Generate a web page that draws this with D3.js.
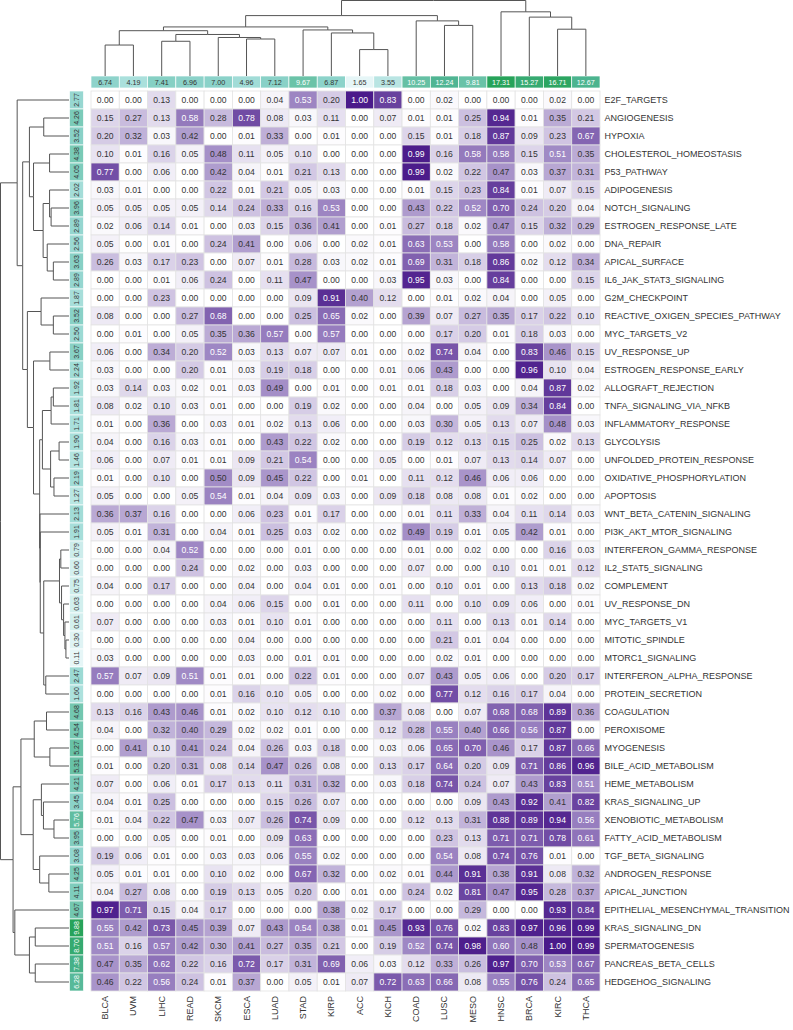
<!DOCTYPE html>
<html><head><meta charset="utf-8">
<script src="https://cdn.jsdelivr.net/npm/d3@7"></script>
<style>body{margin:0;background:#fff}svg{display:block}text{font-family:"Liberation Sans",Arial,Helvetica,sans-serif}</style>
</head><body><svg id="c" width="793" height="1030"></svg>
<script>
const columns = ["BLCA","UVM","LIHC","READ","SKCM","ESCA","LUAD","STAD","KIRP","ACC","KICH","COAD","LUSC","MESO","HNSC","BRCA","KIRC","THCA"];
const pathways = ["E2F_TARGETS","ANGIOGENESIS","HYPOXIA","CHOLESTEROL_HOMEOSTASIS","P53_PATHWAY","ADIPOGENESIS","NOTCH_SIGNALING","ESTROGEN_RESPONSE_LATE","DNA_REPAIR","APICAL_SURFACE","IL6_JAK_STAT3_SIGNALING","G2M_CHECKPOINT","REACTIVE_OXIGEN_SPECIES_PATHWAY","MYC_TARGETS_V2","UV_RESPONSE_UP","ESTROGEN_RESPONSE_EARLY","ALLOGRAFT_REJECTION","TNFA_SIGNALING_VIA_NFKB","INFLAMMATORY_RESPONSE","GLYCOLYSIS","UNFOLDED_PROTEIN_RESPONSE","OXIDATIVE_PHOSPHORYLATION","APOPTOSIS","WNT_BETA_CATENIN_SIGNALING","PI3K_AKT_MTOR_SIGNALING","INTERFERON_GAMMA_RESPONSE","IL2_STAT5_SIGNALING","COMPLEMENT","UV_RESPONSE_DN","MYC_TARGETS_V1","MITOTIC_SPINDLE","MTORC1_SIGNALING","INTERFERON_ALPHA_RESPONSE","PROTEIN_SECRETION","COAGULATION","PEROXISOME","MYOGENESIS","BILE_ACID_METABOLISM","HEME_METABOLISM","KRAS_SIGNALING_UP","XENOBIOTIC_METABOLISM","FATTY_ACID_METABOLISM","TGF_BETA_SIGNALING","ANDROGEN_RESPONSE","APICAL_JUNCTION","EPITHELIAL_MESENCHYMAL_TRANSITION","KRAS_SIGNALING_DN","SPERMATOGENESIS","PANCREAS_BETA_CELLS","HEDGEHOG_SIGNALING"];
const colTotals = [6.74,4.19,7.41,6.96,7.00,4.96,7.12,9.67,6.87,1.65,3.55,10.25,12.24,9.81,17.31,15.27,16.71,12.67];
const rowTotals = [2.77,4.26,3.52,4.38,4.05,2.02,3.96,2.89,2.56,3.63,2.89,1.87,3.52,2.50,3.67,2.24,1.92,1.81,1.71,1.90,1.46,2.19,1.27,2.13,1.91,0.79,0.60,0.75,0.63,0.61,0.30,0.11,2.47,1.60,4.68,4.54,5.27,5.31,4.21,3.45,5.76,3.95,3.08,4.25,4.11,4.67,9.88,8.70,7.38,6.28];
const values = [
[0.00,0.00,0.13,0.00,0.00,0.00,0.04,0.53,0.20,1.00,0.83,0.00,0.02,0.00,0.00,0.00,0.02,0.00],
[0.15,0.27,0.13,0.58,0.28,0.78,0.08,0.03,0.11,0.00,0.07,0.01,0.01,0.25,0.94,0.01,0.35,0.21],
[0.20,0.32,0.03,0.42,0.00,0.01,0.33,0.00,0.01,0.00,0.00,0.15,0.01,0.18,0.87,0.09,0.23,0.67],
[0.10,0.01,0.16,0.05,0.48,0.11,0.05,0.10,0.00,0.00,0.00,0.99,0.16,0.58,0.58,0.15,0.51,0.35],
[0.77,0.00,0.06,0.00,0.42,0.04,0.01,0.21,0.13,0.00,0.00,0.99,0.02,0.22,0.47,0.03,0.37,0.31],
[0.03,0.01,0.00,0.00,0.22,0.01,0.21,0.05,0.03,0.00,0.00,0.01,0.15,0.23,0.84,0.01,0.07,0.15],
[0.05,0.05,0.05,0.05,0.14,0.24,0.33,0.16,0.53,0.00,0.00,0.43,0.22,0.52,0.70,0.24,0.20,0.04],
[0.02,0.06,0.14,0.01,0.00,0.03,0.15,0.36,0.41,0.00,0.01,0.27,0.18,0.02,0.47,0.15,0.32,0.29],
[0.05,0.00,0.01,0.00,0.24,0.41,0.00,0.06,0.00,0.02,0.01,0.63,0.53,0.00,0.58,0.00,0.02,0.00],
[0.26,0.03,0.17,0.23,0.00,0.07,0.01,0.28,0.03,0.02,0.01,0.69,0.31,0.18,0.86,0.02,0.12,0.34],
[0.00,0.00,0.01,0.06,0.24,0.00,0.11,0.47,0.00,0.00,0.03,0.95,0.03,0.00,0.84,0.00,0.00,0.15],
[0.00,0.00,0.23,0.00,0.00,0.00,0.00,0.09,0.91,0.40,0.12,0.00,0.01,0.02,0.04,0.00,0.05,0.00],
[0.08,0.00,0.00,0.27,0.68,0.00,0.00,0.25,0.65,0.02,0.00,0.39,0.07,0.27,0.35,0.17,0.22,0.10],
[0.00,0.01,0.00,0.05,0.35,0.36,0.57,0.00,0.57,0.00,0.00,0.00,0.17,0.20,0.01,0.18,0.03,0.00],
[0.06,0.00,0.34,0.20,0.52,0.03,0.13,0.07,0.07,0.01,0.00,0.02,0.74,0.04,0.00,0.83,0.46,0.15],
[0.03,0.00,0.00,0.20,0.01,0.03,0.19,0.18,0.00,0.00,0.01,0.06,0.43,0.00,0.00,0.96,0.10,0.04],
[0.03,0.14,0.03,0.02,0.01,0.03,0.49,0.00,0.01,0.00,0.01,0.01,0.18,0.03,0.00,0.04,0.87,0.02],
[0.08,0.02,0.10,0.03,0.01,0.00,0.00,0.19,0.02,0.00,0.00,0.04,0.00,0.05,0.09,0.34,0.84,0.00],
[0.01,0.00,0.36,0.00,0.03,0.01,0.02,0.13,0.06,0.00,0.00,0.03,0.30,0.05,0.13,0.07,0.48,0.03],
[0.04,0.00,0.16,0.03,0.01,0.00,0.43,0.22,0.02,0.00,0.00,0.19,0.12,0.13,0.15,0.25,0.02,0.13],
[0.06,0.00,0.07,0.01,0.01,0.09,0.21,0.54,0.00,0.00,0.05,0.00,0.01,0.07,0.13,0.14,0.07,0.00],
[0.01,0.00,0.10,0.00,0.50,0.09,0.45,0.22,0.00,0.01,0.00,0.11,0.12,0.46,0.06,0.06,0.00,0.00],
[0.05,0.00,0.00,0.05,0.54,0.01,0.04,0.09,0.03,0.00,0.09,0.18,0.08,0.08,0.01,0.02,0.00,0.00],
[0.36,0.37,0.16,0.00,0.00,0.06,0.23,0.01,0.17,0.00,0.00,0.01,0.11,0.33,0.04,0.11,0.14,0.03],
[0.05,0.01,0.31,0.00,0.04,0.01,0.25,0.03,0.02,0.00,0.02,0.49,0.19,0.01,0.05,0.42,0.01,0.00],
[0.00,0.00,0.04,0.52,0.00,0.00,0.00,0.01,0.00,0.00,0.00,0.01,0.00,0.02,0.00,0.00,0.16,0.03],
[0.00,0.00,0.00,0.24,0.00,0.02,0.00,0.03,0.00,0.00,0.00,0.07,0.00,0.00,0.10,0.01,0.01,0.12],
[0.04,0.00,0.17,0.00,0.00,0.04,0.00,0.04,0.01,0.00,0.01,0.00,0.10,0.01,0.00,0.13,0.18,0.02],
[0.00,0.00,0.00,0.00,0.04,0.06,0.15,0.00,0.01,0.00,0.00,0.11,0.00,0.10,0.09,0.06,0.00,0.01],
[0.07,0.00,0.00,0.00,0.03,0.01,0.10,0.01,0.00,0.00,0.00,0.00,0.11,0.00,0.13,0.01,0.14,0.00],
[0.00,0.00,0.00,0.00,0.00,0.04,0.00,0.00,0.00,0.00,0.00,0.00,0.21,0.01,0.04,0.00,0.00,0.00],
[0.03,0.00,0.00,0.00,0.00,0.03,0.00,0.01,0.01,0.00,0.00,0.00,0.02,0.01,0.00,0.00,0.00,0.00],
[0.57,0.07,0.09,0.51,0.01,0.01,0.00,0.22,0.01,0.00,0.00,0.07,0.43,0.05,0.06,0.00,0.20,0.17],
[0.00,0.00,0.00,0.00,0.01,0.16,0.10,0.05,0.00,0.00,0.02,0.00,0.77,0.12,0.16,0.17,0.04,0.00],
[0.13,0.16,0.43,0.46,0.01,0.02,0.10,0.12,0.10,0.00,0.37,0.08,0.00,0.07,0.68,0.68,0.89,0.36],
[0.04,0.00,0.32,0.40,0.29,0.02,0.02,0.01,0.00,0.00,0.12,0.28,0.55,0.40,0.66,0.56,0.87,0.00],
[0.00,0.41,0.10,0.41,0.24,0.04,0.26,0.03,0.18,0.00,0.03,0.06,0.65,0.70,0.46,0.17,0.87,0.66],
[0.01,0.00,0.20,0.31,0.08,0.14,0.47,0.26,0.08,0.00,0.13,0.17,0.64,0.20,0.09,0.71,0.86,0.96],
[0.07,0.00,0.06,0.01,0.17,0.13,0.11,0.31,0.32,0.00,0.03,0.18,0.74,0.24,0.07,0.43,0.83,0.51],
[0.04,0.01,0.25,0.00,0.00,0.00,0.15,0.26,0.07,0.00,0.00,0.00,0.00,0.09,0.43,0.92,0.41,0.82],
[0.01,0.04,0.22,0.47,0.03,0.07,0.26,0.74,0.09,0.00,0.00,0.12,0.13,0.31,0.88,0.89,0.94,0.56],
[0.00,0.00,0.05,0.00,0.01,0.00,0.09,0.63,0.00,0.00,0.00,0.00,0.23,0.13,0.71,0.71,0.78,0.61],
[0.19,0.06,0.01,0.00,0.03,0.03,0.06,0.55,0.02,0.00,0.00,0.00,0.54,0.08,0.74,0.76,0.01,0.00],
[0.05,0.01,0.01,0.00,0.10,0.02,0.00,0.67,0.32,0.00,0.02,0.01,0.44,0.91,0.38,0.91,0.08,0.32],
[0.04,0.27,0.08,0.00,0.19,0.13,0.05,0.20,0.00,0.01,0.00,0.24,0.02,0.81,0.47,0.95,0.28,0.37],
[0.97,0.71,0.15,0.04,0.17,0.00,0.00,0.00,0.38,0.02,0.17,0.00,0.00,0.29,0.00,0.00,0.93,0.84],
[0.55,0.42,0.73,0.45,0.39,0.07,0.43,0.54,0.38,0.01,0.45,0.93,0.76,0.02,0.83,0.97,0.96,0.99],
[0.51,0.16,0.57,0.42,0.30,0.41,0.27,0.35,0.21,0.00,0.19,0.52,0.74,0.98,0.60,0.48,1.00,0.99],
[0.47,0.35,0.62,0.22,0.16,0.72,0.17,0.31,0.69,0.06,0.03,0.12,0.33,0.26,0.97,0.70,0.53,0.67],
[0.46,0.22,0.56,0.24,0.01,0.37,0.00,0.05,0.01,0.07,0.72,0.63,0.66,0.08,0.55,0.76,0.24,0.65]
];
// dendrograms: [mergeHeight, left, right]; leaf = index
const colTree = [1.00,
  [0.80,
    [0.65,
      [0.60,[0.41,0,1],[0.55,[0.46,2,3],[0.51,4,[0.49,5,6]]]],
      [0.61,7,[0.57,8,[0.35,9,10]]]],
    [0.73,11,[0.67,12,13]]],
  [0.85,14,[0.78,15,[0.62,16,17]]]];
const rowTree = [67,
  [50.7,0,
    [45.3,
      [38.7,[24.7,1,2],[34.7,[19,3,4],[25.3,[19,5,[17.5,6,7]],[21.3,8,[15.3,9,10]]]]],
      [40.7,[27.3,11,[15.3,12,13]],
        [34.7,[18.7,14,15],
          [28.7,
            [26,[17.5,[15.3,16,17],18],[18,[9.7,19,20],[14.7,21,22]]],
            [28.4,23,[28.1,24,
              [24.7,[9.3,[8,25,26],[7.3,27,[5.3,28,[4,29,[3,30,31]]]]],[22.7,32,33]]]]]]]]],
  [54.7,
    [47,[34,[22,34,35],[18.7,36,37]],[35,[27,38,[25,39,[14.7,40,41]]],[28.7,42,[19.7,43,44]]]],
    [53,45,[38.7,[33,46,47],[33,48,49]]]]];

const svg = d3.select("#c");
const hmL = 91, hmR = 600, hmT = 91, hmB = 991;
const x = d3.scaleBand().domain(d3.range(columns.length)).range([hmL, hmR]);
const y = d3.scaleBand().domain(d3.range(pathways.length)).range([hmT, hmB]);
const cellColor = d3.scaleLinear().domain([0, 0.15, 0.5, 1]).range(["#ffffff", "#ddd5ea", "#a28cc6", "#4a1a8a"]).clamp(true);
const annStops = ["#e6f6f7", "#aae0dc", "#8dd3cb", "#6dc4aa", "#4fb593", "#27a35a"];
function annScale(vals) {
  const [lo, hi] = d3.extent(vals);
  const t = d3.scaleLinear().domain([lo, hi]).range([0, 1]);
  const c = d3.scaleLinear().domain([0, 0.16, 0.33, 0.5, 0.68, 1]).range(annStops);
  return v => ({ fill: c(t(v)), t: t(v) });
}
const fmt = d3.format(".2f");
const colAnn = annScale(colTotals), rowAnn = annScale(rowTotals);

// heatmap cells
const cells = [];
values.forEach((row, i) => row.forEach((v, j) => cells.push({ i, j, v })));
const g = svg.append("g");
g.selectAll("rect.cell").data(cells).join("rect")
  .attr("x", d => x(d.j)).attr("y", d => y(d.i))
  .attr("width", x.bandwidth()).attr("height", y.bandwidth())
  .attr("fill", d => cellColor(d.v)).attr("stroke", "#e3e3e3").attr("stroke-width", 0.8);
g.selectAll("text.cell").data(cells).join("text")
  .attr("x", d => x(d.j) + x.bandwidth() / 2).attr("y", d => y(d.i) + y.bandwidth() / 2)
  .attr("text-anchor", "middle").attr("dominant-baseline", "central")
  .attr("font-size", 8.6).attr("fill", d => d.v > 0.5 ? "#ffffff" : "#333333")
  .text(d => fmt(d.v));

// row labels
svg.append("g").selectAll("text").data(pathways).join("text")
  .attr("x", hmR + 4.5).attr("y", (d, i) => y(i) + y.bandwidth() / 2)
  .attr("dominant-baseline", "central").attr("font-size", 9).attr("fill", "#333")
  .text(d => d);

// column labels
svg.append("g").selectAll("text").data(columns).join("text")
  .attr("transform", (d, j) => `translate(${x(j) + x.bandwidth() / 2},${hmB + 5}) rotate(-90)`)
  .attr("text-anchor", "end").attr("dominant-baseline", "central")
  .attr("font-size", 9).attr("fill", "#333").text(d => d);

// column annotation
const caT = 76, caB = 88;
const ca = svg.append("g");
ca.selectAll("rect").data(colTotals).join("rect")
  .attr("x", (d, j) => x(j)).attr("y", caT).attr("width", x.bandwidth()).attr("height", caB - caT)
  .attr("fill", d => colAnn(d).fill).attr("stroke", "#ffffff").attr("stroke-width", 0.7);
ca.selectAll("text").data(colTotals).join("text")
  .attr("x", (d, j) => x(j) + x.bandwidth() / 2).attr("y", (caT + caB) / 2)
  .attr("text-anchor", "middle").attr("dominant-baseline", "central")
  .attr("font-size", 7.2).attr("fill", d => colAnn(d).t > 0.5 ? "#ffffff" : "#333").text(d => fmt(d));

// row annotation
const raL = 69.5, raR = 83.5;
const ra = svg.append("g");
ra.selectAll("rect").data(rowTotals).join("rect")
  .attr("x", raL).attr("y", (d, i) => y(i)).attr("width", raR - raL).attr("height", y.bandwidth())
  .attr("fill", d => rowAnn(d).fill).attr("stroke", "#ffffff").attr("stroke-width", 0.7);
ra.selectAll("text").data(rowTotals).join("text")
  .attr("transform", (d, i) => `translate(${(raL + raR) / 2},${y(i) + y.bandwidth() / 2}) rotate(-90)`)
  .attr("text-anchor", "middle").attr("dominant-baseline", "central")
  .attr("font-size", 7).attr("fill", d => rowAnn(d).t > 0.55 ? "#ffffff" : "#333").text(d => fmt(d));

// dendrogram layout
function build(node, posOf) {
  if (typeof node === "number") return { h: 0, p: posOf(node), kids: null };
  const a = build(node[1], posOf), b = build(node[2], posOf);
  return { h: node[0], p: (a.p + b.p) / 2, kids: [a, b] };
}
function segments(n, out) {
  if (!n.kids) return out;
  n.kids.forEach(k => { out.push({ n, k }); segments(k, out); });
  return out;
}
// top dendrogram
const colRoot = build(colTree, j => x(j) + x.bandwidth() / 2);
const hy = d3.scaleLinear().domain([0, colRoot.h]).range([caT, 0.5]);
svg.append("g").selectAll("path").data(segments(colRoot, [])).join("path")
  .attr("d", d => `M${d.k.p},${hy(d.k.h)}V${hy(d.n.h)}H${d.n.p}`)
  .attr("fill", "none").attr("stroke", "#555").attr("stroke-width", 1);
// left dendrogram
const rowRoot = build(rowTree, i => y(i) + y.bandwidth() / 2);
const hx = d3.scaleLinear().domain([0, rowRoot.h]).range([raL - 0.5, 0.5]);
svg.append("g").selectAll("path").data(segments(rowRoot, [])).join("path")
  .attr("d", d => `M${hx(d.k.h)},${d.k.p}H${hx(d.n.h)}V${d.n.p}`)
  .attr("fill", "none").attr("stroke", "#555").attr("stroke-width", 1);
</script></body></html>
